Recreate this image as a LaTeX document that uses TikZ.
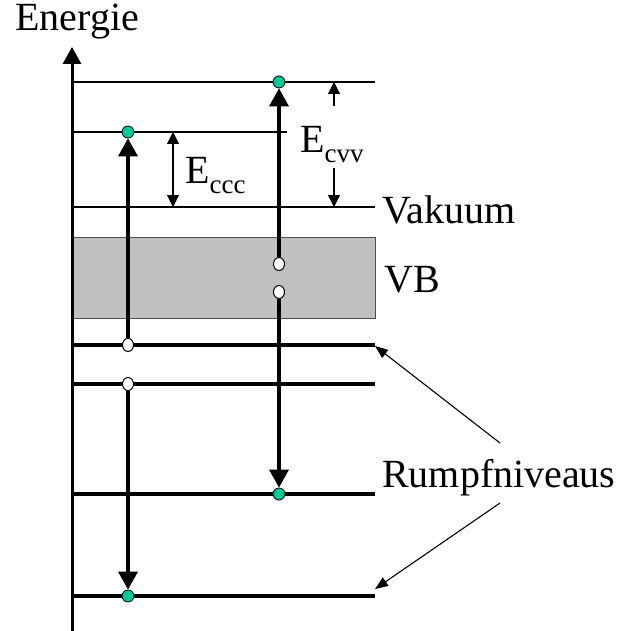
\documentclass[tikz,border=0pt]{standalone}
\usepackage{fontspec}
\setmainfont{Liberation Serif}
\usetikzlibrary{arrows.meta, shapes.geometric}
\definecolor{dotgreen}{RGB}{0,200,150}
\definecolor{vbgray}{RGB}{192,192,192}

\begin{document}
\begin{tikzpicture}[
    x=1pt, y=-1pt,
    dot/.style={circle, draw=black, line width=0.8pt, fill=dotgreen, inner sep=0pt, minimum size=12pt},
    hole/.style={ellipse, draw=black, line width=1pt, fill=white, inner sep=0pt, minimum width=11pt, minimum height=13pt},
    txt/.style={font=\fontsize{40}{46}\selectfont, inner sep=0pt, anchor=base west},
    thinlevel/.style={line width=1.3pt},
    corelevel/.style={line width=3.5pt},
    axis/.style={line width=3pt, -{Triangle[width=18pt,length=17pt]}},
    trans/.style={line width=3.5pt, -{Triangle[width=19pt,length=18pt]}},
    gap/.style={line width=1.1pt, -{Triangle[width=12pt,length=12pt]}},
    twogap/.style={line width=1.1pt, {Triangle[width=12pt,length=12pt]}-{Triangle[width=12pt,length=12pt]}},
    pointer/.style={line width=1.1pt, -{Triangle[width=10pt,length=13pt]}}
]
    \useasboundingbox (0,0) rectangle (618,631);

    % Valence band
    \draw[draw=black!70, line width=1pt, fill=vbgray] (72,237) rectangle (375,318);

    % Energy levels
    \draw[thinlevel] (72,82) -- (375,82);
    \draw[thinlevel] (72,132) -- (287,132);
    \draw[thinlevel] (72,207) -- (375,207);
    \draw[corelevel] (72,345) -- (375,345);
    \draw[corelevel] (72,384) -- (375,384);
    \draw[corelevel] (72,494) -- (375,494);
    \draw[corelevel] (72,596) -- (375,596);

    % Energy axis
    \coordinate (axbot) at (72,631);
    \coordinate (axtop) at (72,47);
    \draw[axis] (axbot) -- (axtop);
    \node[txt] (energie) at (15,31) {Energie};

    % Electrons and holes
    \node[hole] (h1) at (128,345) {};
    \node[hole] (h2) at (128,384) {};
    \node[hole] (h3) at (279,264) {};
    \node[hole] (h4) at (279,292) {};
    \node[dot] (e1) at (128,132) {};
    \node[dot] (e2) at (128,596) {};
    \node[dot] (e3) at (279,82) {};
    \node[dot] (e4) at (279,494) {};

    % Transitions
    \draw[trans] (h1) -- (e1);
    \draw[trans] (h2) -- (e2);
    \draw[trans] (h3) -- (e3);
    \draw[trans] (h4) -- (e4);

    % Kinetic energies
    \coordinate (ccctop) at (173,132);
    \coordinate (cccbot) at (173,207);
    \draw[twogap] (ccctop) -- (cccbot);
    \node[txt] (eccc) at (185,183) {E\raisebox{-10pt}{\fontsize{27}{31}\selectfont ccc}};

    \coordinate (cvvtop) at (334,82);
    \coordinate (cvvmid1) at (334,106);
    \coordinate (cvvmid2) at (334,168);
    \coordinate (cvvbot) at (334,207);
    \draw[gap] (cvvmid1) -- (cvvtop);
    \draw[gap] (cvvmid2) -- (cvvbot);
    \node[txt] (ecvv) at (300,153) {E\raisebox{-10pt}{\fontsize{27}{31}\selectfont cvv}};

    % Labels
    \node[txt] (vakuum) at (382,223) {Vakuum};
    \node[txt] (vb) at (384,292) {VB};
    \node[txt] (rumpf) at (382,487) {Rumpfniveaus};

    % Pointers to core levels
    \coordinate (ptr) at (500,443);
    \coordinate (ptrb) at (500,503);
    \coordinate (core1) at (375,346);
    \coordinate (core4) at (375,589);
    \draw[pointer] (ptr) -- (core1);
    \draw[pointer] (ptrb) -- (core4);
\end{tikzpicture}
\end{document}
